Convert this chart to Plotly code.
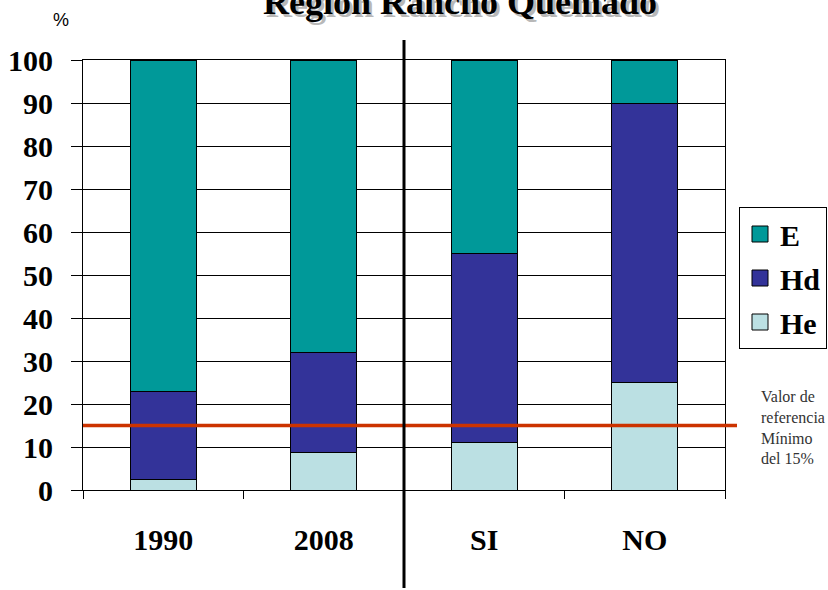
import plotly.graph_objects as go

categories = ["1990", "2008", "SI", "NO"]
he_values = [2.5, 8.7, 11.0, 25.0]
hd_values = [20.3, 23.3, 44.0, 65.0]
e_values = [77.2, 68.0, 45.0, 10.0]
reference_value = 15
y_ticks = [0, 10, 20, 30, 40, 50, 60, 70, 80, 90, 100]

title_text = "Región Rancho Quemado"
note_text = "Valor de<br>referencia<br>Mínimo<br>del 15%"

serif = "Liberation Serif, Times New Roman, serif"
colors = {"He": "#BBE0E3", "Hd": "#333399", "E": "#009999"}

FW, FH = 828, 590
PL, PT, PW, PH = 83, 60, 642, 430


def px(x):
    return (x - PL) / PW


def py(y):
    return (PT + PH - y) / PH


fig = go.Figure()
series = [("He", he_values), ("Hd", hd_values), ("E", e_values)]
for name, vals in series:
    fig.add_trace(go.Bar(
        x=categories, y=vals, name=name, showlegend=False,
        marker=dict(color=colors[name], line=dict(color="black", width=1)),
        width=0.41,
    ))
# legend entries (larger square swatches)
for name in ["E", "Hd", "He"]:
    fig.add_trace(go.Scatter(
        x=[None], y=[None], mode="markers", name=name, legendgroup=name,
        marker=dict(symbol="square", size=16, color=colors[name],
                    line=dict(color="black", width=1)),
    ))

fig.update_layout(
    barmode="stack",
    width=FW, height=FH,
    margin=dict(l=PL, r=FW - PL - PW, t=PT, b=FH - PT - PH, autoexpand=False),
    plot_bgcolor="white", paper_bgcolor="white",
    font=dict(family=serif, color="black"),
    showlegend=True,
    legend=dict(
        x=px(739), y=py(207), xanchor="left", yanchor="top",
        traceorder="grouped", tracegroupgap=2,
        bordercolor="black", borderwidth=1, bgcolor="white",
        font=dict(family=serif, size=30, color="black", weight="bold"),
        itemwidth=30,
    ),
)

fig.update_yaxes(
    range=[0, 100], tickvals=y_ticks, ticktext=[str(v) for v in y_ticks],
    showgrid=True, gridcolor="black", gridwidth=1,
    showline=True, linecolor="black", linewidth=1, mirror=True,
    ticks="outside", ticklen=11, tickcolor="black",
    tickfont=dict(family=serif, size=30, color="black", weight="bold"),
    ticklabelstandoff=12, zeroline=False, automargin=False,
)
fig.update_xaxes(
    showline=True, linecolor="black", linewidth=1, mirror=True,
    ticks="outside", ticklen=8, tickcolor="black", tickson="boundaries",
    tickfont=dict(family=serif, size=30, color="black", weight="bold"),
    ticklabelstandoff=23, automargin=False,
)

# reference line
fig.add_shape(type="line", xref="paper", yref="y", x0=0, x1=px(737),
              y0=reference_value, y1=reference_value,
              line=dict(color="#CC3300", width=3.5))
# separator line between groups
fig.add_shape(type="line", xref="x", yref="paper", x0=1.5, x1=1.5,
              y0=py(588), y1=py(40), line=dict(color="black", width=3))

# title with shadow
for dx, dy, col in [(3, -3, "#B8B8B8"), (0, 0, "black")]:
    fig.add_annotation(text=title_text, xref="paper", yref="paper",
                       x=px(460), y=py(24), xshift=dx, yshift=dy,
                       xanchor="center", yanchor="bottom", showarrow=False,
                       font=dict(family=serif, size=36, color=col, weight="bold"))

fig.add_annotation(text="%", xref="paper", yref="paper",
                   x=px(61), y=py(20), xanchor="center", yanchor="middle",
                   showarrow=False, font=dict(family="Liberation Sans, Arial", size=18, color="black"))

fig.add_annotation(text=note_text, xref="paper", yref="paper",
                   x=px(759), y=py(386), xanchor="left", yanchor="top",
                   align="left", showarrow=False,
                   font=dict(family=serif, size=16, color="#333333"))

fig.write_html(
    "out.html",
    config={"displayModeBar": False},
    post_script="document.body.style.margin='0';document.body.style.overflow='hidden';",
)
